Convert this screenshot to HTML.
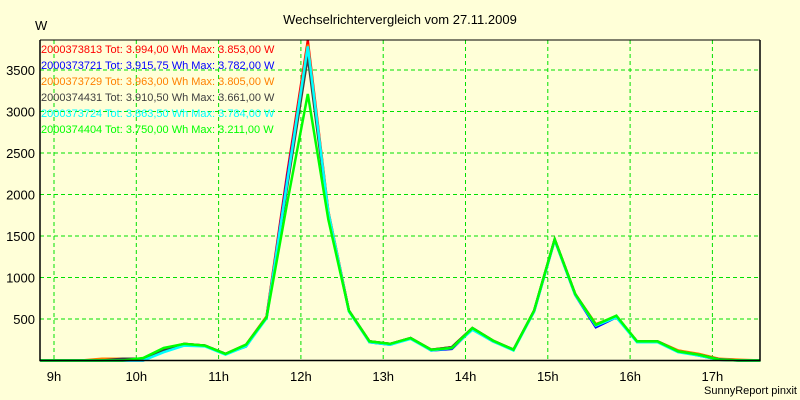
<!DOCTYPE html>
<html><head><meta charset="utf-8"><style>
body{margin:0;background:#ffffd8;}
svg{display:block;font-family:"Liberation Sans",sans-serif;}
</style></head><body>
<svg id="chart" width="800" height="400" xmlns="http://www.w3.org/2000/svg">
<rect width="800" height="400" fill="#ffffd8"/>
<text x="400" y="24" text-anchor="middle" font-size="13" fill="#000">Wechselrichtervergleich vom 27.11.2009</text>
<text x="35" y="30" font-size="13" fill="#000">W</text>
<text x="797" y="394" text-anchor="end" font-size="11" fill="#000">SunnyReport pinxit</text>
<g id="grid"></g><g id="series"></g><g id="axes"></g><g id="legend"></g>
</svg>
<script>
const yTicks=[500,1000,1500,2000,2500,3000,3500];
const xTickHours=[9,10,11,12,13,14,15,16,17];
const xTickLabels=["9h","10h","11h","12h","13h","14h","15h","16h","17h"];
const startHour=8+50/60, stepHour=0.25;
const seriesNames=["2000373813 Tot: 3.994,00 Wh Max: 3.853,00 W","2000373721 Tot: 3.915,75 Wh Max: 3.782,00 W","2000373729 Tot: 3.963,00 Wh Max: 3.805,00 W","2000374431 Tot: 3.910,50 Wh Max: 3.661,00 W","2000373724 Tot: 3.863,50 Wh Max: 3.784,00 W","2000374404 Tot: 3.750,00 Wh Max: 3.211,00 W"];
const seriesColors=["#ff0000","#0000ff","#ff8000","#404040","#00ffff","#00ff00"];
const s1=[0,0,0,0,0,10,140,200,180,80,190,530,2250,3853,1800,600,230,200,270,130,160,390,240,130,600,1460,800,430,530,230,230,120,70,15,0,0];
const s2=[0,0,0,0,0,0,110,190,180,80,170,520,2200,3782,1780,600,220,190,270,120,140,380,230,130,590,1450,790,400,520,230,230,110,60,10,0,0];
const s3=[0,0,0,20,20,20,140,200,180,80,180,530,2150,3805,1790,600,230,200,270,130,160,390,240,130,600,1460,800,440,530,230,230,120,80,20,10,0];
const s4=[0,0,0,0,20,20,130,200,180,80,180,520,2100,3661,1750,600,230,200,270,130,160,390,240,130,600,1460,800,430,530,230,230,110,70,15,0,0];
const s5=[0,0,0,0,0,0,100,180,170,70,170,510,2150,3784,1790,590,220,190,260,120,150,370,230,120,590,1450,790,420,520,220,220,100,60,10,0,0];
const s6=[0,0,0,0,0,30,150,200,180,80,190,520,1900,3211,1700,600,230,200,270,130,150,390,240,130,600,1460,800,430,540,230,230,110,70,10,0,0];
const allSeries=[s1,s2,s3,s4,s5,s6];
const L=40,R=760,T=40,B=360.5,yMax=3861;
const xs=h=>54+82.3*(h-9);
const ys=v=>B-(v/yMax)*(B-T);
const NS="http://www.w3.org/2000/svg";
function mk(tag,attrs,parent){const e=document.createElementNS(NS,tag);for(const k in attrs)e.setAttribute(k,attrs[k]);parent.appendChild(e);return e;}
const grid=document.getElementById('grid'),ser=document.getElementById('series'),ax=document.getElementById('axes'),lg=document.getElementById('legend');
yTicks.forEach(v=>{const y=ys(v);
 const g=mk('line',{x1:L,x2:R,y1:y,y2:y,stroke:'#00e000','stroke-dasharray':'4,3','stroke-width':1},grid);
 
 
 const t=mk('text',{x:35,y:y+5,'text-anchor':'end','font-size':13},ax);t.textContent=v;
 
 
});
xTickHours.forEach((h,i)=>{const x=xs(h);
 const g=mk('line',{x1:x,x2:x,y1:T,y2:B,stroke:'#00e000','stroke-dasharray':'4,3','stroke-width':1},grid);
 
 
 const t=mk('text',{x:x,y:381,'text-anchor':'middle','font-size':13},ax);t.textContent=xTickLabels[i];
 
 
});
allSeries.forEach((s,i)=>{const pts=s.map((v,k)=>xs(startHour+k*stepHour).toFixed(1)+','+ys(v).toFixed(1)).join(' ');
 const p=mk('polyline',{points:pts,fill:'none',stroke:seriesColors[i],'stroke-width':2.5,'stroke-linejoin':'miter'},ser);
 
 
});
const fr=mk('path',{d:`M${L},${T} V${B} H${R} V${T}`,fill:'none',stroke:'#000','stroke-width':1.5},ax);


const tp=mk('line',{x1:L,x2:R,y1:T,y2:T,stroke:'#000','stroke-width':1},ax);


seriesNames.forEach((n,i)=>{const t=mk('text',{x:41,y:53+i*16,'font-size':11,fill:seriesColors[i]},lg);t.textContent=n;
 
 
});
</script>
</body></html>
